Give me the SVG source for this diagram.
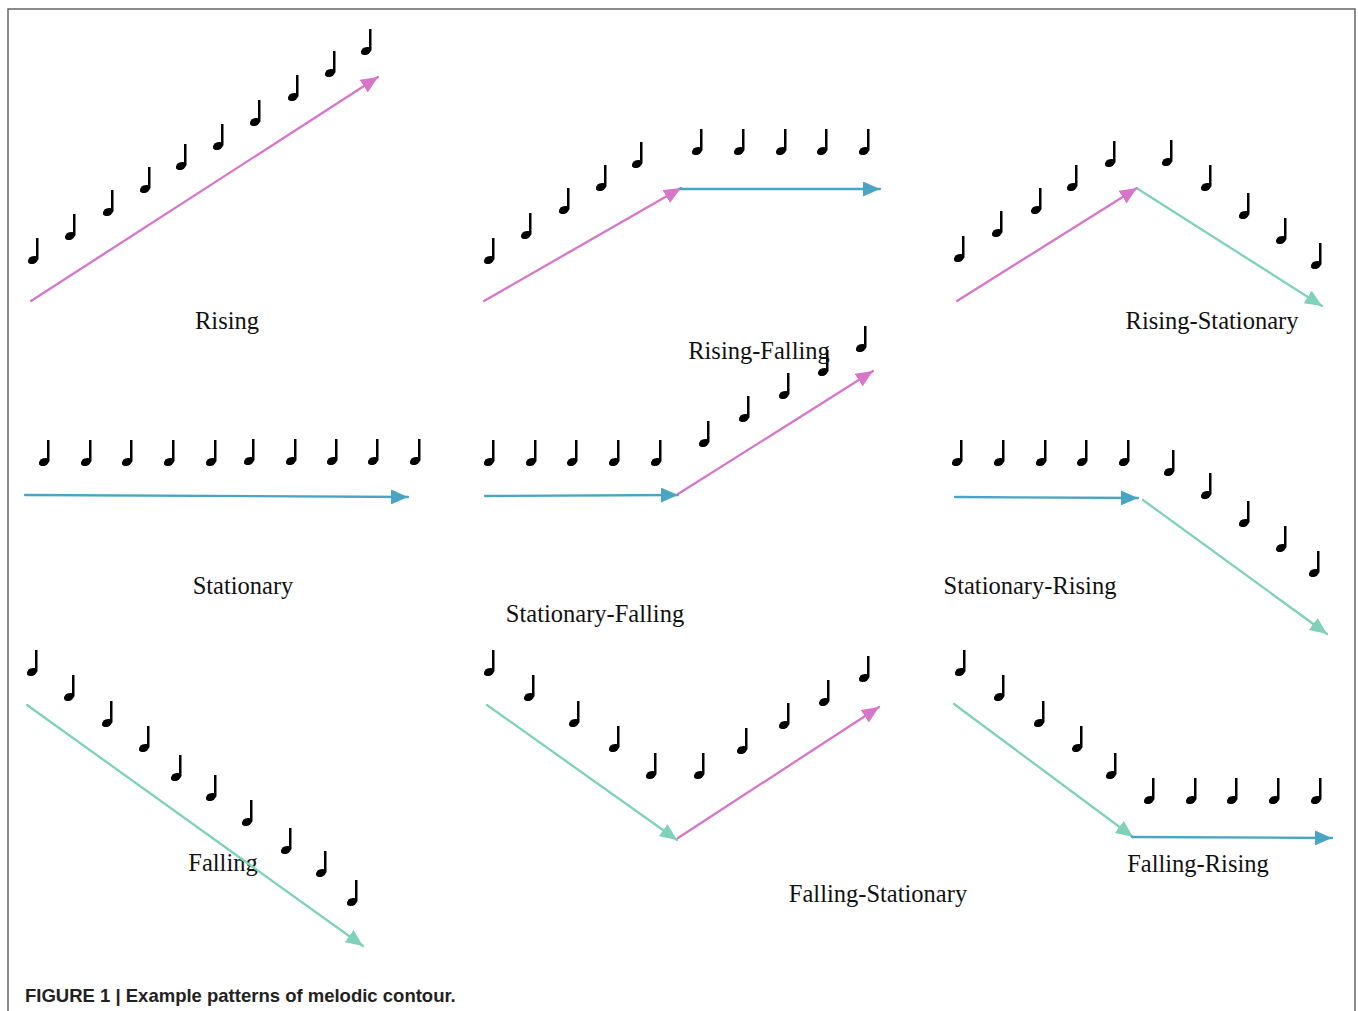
<svg xmlns="http://www.w3.org/2000/svg" xmlns:xlink="http://www.w3.org/1999/xlink" width="1358" height="1011" viewBox="0 0 1358 1011">
<style>
.lbl{font-family:"Liberation Serif","Times New Roman",serif;font-size:24.5px;fill:#111}
.cap{font-family:"Liberation Sans",Arial,sans-serif;font-size:18.5px;font-weight:bold;fill:#222}
.ar{fill:none;stroke-width:2.3;stroke-linecap:round}
.pink{stroke:#d775cb;marker-end:url(#mp)}
.blue{stroke:#4aa5c5;marker-end:url(#mb)}
.teal{stroke:#7fd1ba;marker-end:url(#mt)}
</style>
<defs>
<marker id="mp" markerUnits="userSpaceOnUse" markerWidth="17" markerHeight="15" refX="17" refY="7.5" orient="auto"><path d="M0,0 L17,7.5 L0,15 z" fill="#d775cb"/></marker>
<marker id="mb" markerUnits="userSpaceOnUse" markerWidth="17" markerHeight="15" refX="17" refY="7.5" orient="auto"><path d="M0,0 L17,7.5 L0,15 z" fill="#4aa5c5"/></marker>
<marker id="mt" markerUnits="userSpaceOnUse" markerWidth="17" markerHeight="15" refX="17" refY="7.5" orient="auto"><path d="M0,0 L17,7.5 L0,15 z" fill="#7fd1ba"/></marker>
<g id="note">
<ellipse cx="0" cy="0" rx="5.3" ry="3.8" transform="rotate(-25)" fill="#000"/>
<rect x="3" y="-22" width="2.5" height="21.5" fill="#000"/>
</g>
</defs>
<rect width="1358" height="1011" fill="#fff"/>
<path d="M8,1011 V9 H1355 V1011" fill="none" stroke="#666" stroke-width="1.5"/>

<g id="rising">
<use href="#note" x="33" y="260"/><use href="#note" x="70" y="236"/><use href="#note" x="108" y="212"/><use href="#note" x="145" y="189"/><use href="#note" x="181" y="166"/><use href="#note" x="218" y="146"/><use href="#note" x="255" y="122"/><use href="#note" x="293" y="97"/><use href="#note" x="330" y="73"/><use href="#note" x="366" y="51"/>
<text class="lbl" x="227" y="329" text-anchor="middle">Rising</text>
</g>

<g id="rising-falling">
<use href="#note" x="489" y="260"/><use href="#note" x="526" y="235"/><use href="#note" x="564" y="210"/><use href="#note" x="601" y="187"/><use href="#note" x="637" y="164"/><use href="#note" x="697" y="151"/><use href="#note" x="739" y="151"/><use href="#note" x="781" y="151"/><use href="#note" x="822" y="151"/><use href="#note" x="864" y="151"/>
</g>

<g id="rising-stationary">
<use href="#note" x="959" y="258"/><use href="#note" x="997" y="233"/><use href="#note" x="1036" y="210"/><use href="#note" x="1072" y="187"/><use href="#note" x="1110" y="163"/><use href="#note" x="1167" y="162"/><use href="#note" x="1206" y="187"/><use href="#note" x="1244" y="215"/><use href="#note" x="1281" y="240"/><use href="#note" x="1316" y="265"/>
<text class="lbl" x="1212" y="329" text-anchor="middle">Rising-Stationary</text>
</g>

<g id="stationary">
<use href="#note" x="44" y="462"/><use href="#note" x="86" y="462"/><use href="#note" x="127" y="462"/><use href="#note" x="169" y="462"/><use href="#note" x="211" y="462"/><use href="#note" x="249" y="461"/><use href="#note" x="291" y="461"/><use href="#note" x="332" y="461"/><use href="#note" x="373" y="461"/><use href="#note" x="415" y="461"/>
<text class="lbl" x="243" y="594" text-anchor="middle">Stationary</text>
</g>

<g id="stationary-falling">
<use href="#note" x="489" y="462"/><use href="#note" x="531" y="462"/><use href="#note" x="572" y="462"/><use href="#note" x="614" y="462"/><use href="#note" x="656" y="462"/><use href="#note" x="704" y="443"/><use href="#note" x="744" y="418"/><use href="#note" x="784" y="395"/><use href="#note" x="823" y="372"/><use href="#note" x="861" y="348"/>
<text class="lbl" x="759" y="359" text-anchor="middle">Rising-Falling</text>
<text class="lbl" x="595" y="622" text-anchor="middle">Stationary-Falling</text>
</g>

<g id="stationary-rising">
<use href="#note" x="957" y="462"/><use href="#note" x="999" y="462"/><use href="#note" x="1041" y="462"/><use href="#note" x="1082" y="462"/><use href="#note" x="1124" y="462"/><use href="#note" x="1169" y="472"/><use href="#note" x="1206" y="495"/><use href="#note" x="1244" y="523"/><use href="#note" x="1281" y="548"/><use href="#note" x="1314" y="573"/>
<text class="lbl" x="1030" y="594" text-anchor="middle">Stationary-Rising</text>
</g>

<g id="falling">
<use href="#note" x="32" y="672"/><use href="#note" x="69" y="697"/><use href="#note" x="107" y="723"/><use href="#note" x="144" y="748"/><use href="#note" x="176" y="777"/><use href="#note" x="211" y="797"/><use href="#note" x="247" y="822"/><use href="#note" x="286" y="850"/><use href="#note" x="321" y="873"/><use href="#note" x="352" y="902"/>
<text class="lbl" x="223" y="871" text-anchor="middle">Falling</text>
</g>

<g id="falling-stationary">
<use href="#note" x="489" y="672"/><use href="#note" x="529" y="697"/><use href="#note" x="574" y="723"/><use href="#note" x="614" y="748"/><use href="#note" x="651" y="775"/><use href="#note" x="699" y="775"/><use href="#note" x="742" y="750"/><use href="#note" x="784" y="725"/><use href="#note" x="824" y="702"/><use href="#note" x="864" y="678"/>
<text class="lbl" x="878" y="902" text-anchor="middle">Falling-Stationary</text>
</g>

<g id="falling-rising">
<use href="#note" x="960" y="672"/><use href="#note" x="999" y="697"/><use href="#note" x="1039" y="723"/><use href="#note" x="1077" y="748"/><use href="#note" x="1111" y="775"/><use href="#note" x="1149" y="800"/><use href="#note" x="1191" y="800"/><use href="#note" x="1232" y="800"/><use href="#note" x="1274" y="800"/><use href="#note" x="1316" y="800"/>
<text class="lbl" x="1198" y="872" text-anchor="middle">Falling-Rising</text>
</g>

<g id="connectors">
<line class="ar pink" x1="31" y1="301" x2="378" y2="77"/>
<line class="ar pink" x1="484" y1="301" x2="681" y2="188"/>
<line class="ar blue" x1="680" y1="189" x2="880" y2="189"/>
<line class="ar pink" x1="957" y1="301" x2="1137" y2="188"/>
<line class="ar teal" x1="1138" y1="189" x2="1322" y2="306"/>
<line class="ar blue" x1="25" y1="495" x2="408" y2="497"/>
<line class="ar blue" x1="485" y1="496" x2="678" y2="495"/>
<line class="ar pink" x1="678" y1="494" x2="873" y2="371"/>
<line class="ar blue" x1="955" y1="497" x2="1138" y2="498"/>
<line class="ar teal" x1="1143" y1="500" x2="1327" y2="634"/>
<line class="ar teal" x1="27" y1="705" x2="363" y2="946"/>
<line class="ar teal" x1="487" y1="705" x2="677" y2="840"/>
<line class="ar pink" x1="678" y1="838" x2="879" y2="707"/>
<line class="ar teal" x1="954" y1="704" x2="1133" y2="837"/>
<line class="ar blue" x1="1132" y1="837" x2="1332" y2="838"/>
</g>

<text class="cap" x="25" y="1002">FIGURE 1 | Example patterns of melodic contour.</text>
</svg>
